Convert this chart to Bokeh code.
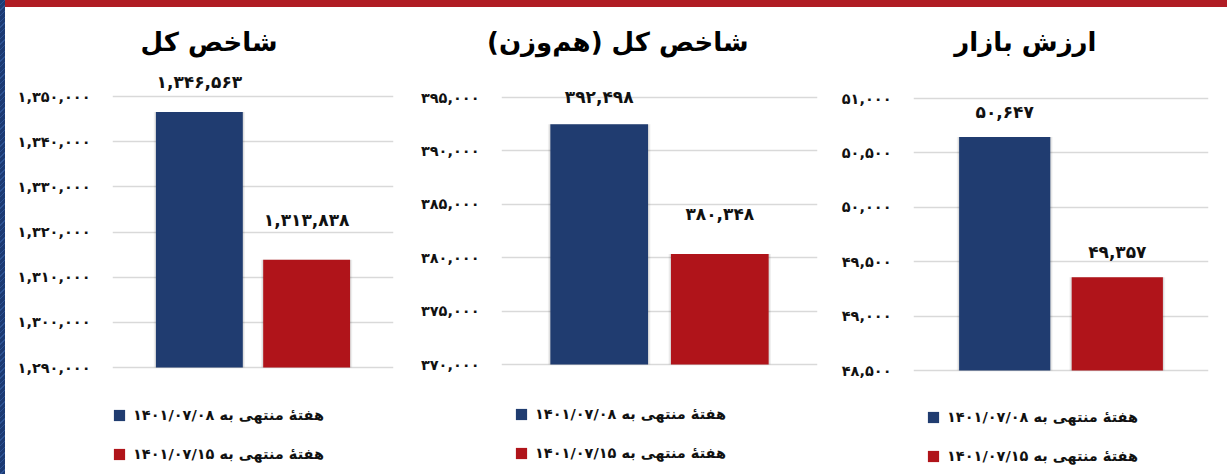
from bokeh.plotting import figure
from bokeh.layouts import row, column
from bokeh.models import (ColumnDataSource, FactorRange, Range1d, FixedTicker,
                          Legend, LegendItem, Div)
from bokeh.core.properties import value
from bokeh.embed import file_html
from bokeh.resources import INLINE

# ---------------- data ----------------
categories = ["هفتهٔ منتهی به ۱۴۰۱/۰۷/۰۸", "هفتهٔ منتهی به ۱۴۰۱/۰۷/۱۵"]
titles = ["شاخص کل", "\u200fشاخص کل (هم\u200cوزن)\u200f", "ارزش بازار"]
week_0708 = [1346563, 392498, 50647]
week_0715 = [1313838, 380348, 49357]
ticks_total = [1290000, 1300000, 1310000, 1320000, 1330000, 1340000, 1350000]
ticks_equal = [370000, 375000, 380000, 385000, 390000, 395000]
ticks_cap = [48500, 49000, 49500, 50000, 50500, 51000]
tick_sets = [ticks_total, ticks_equal, ticks_cap]

# ---------------- style ----------------
BLUE = "#203c70"
RED = "#b0141a"
FONT = "DejaVu Sans"
FA = str.maketrans("0123456789", "۰۱۲۳۴۵۶۷۸۹")


def fa(n):
    return f"{n:,}".translate(FA)


STRIP_W = 5
BAND_H = 7
H = 474 - BAND_H
FRAME_TOP = 63

# per-panel layout in px
panels = [
    dict(w=409 - STRIP_W, bl=107, br=16, top_px=89, bot_px=360, lift=[30, 40],
         lx=0, ly=12, toff=116),
    dict(w=409, bl=92, br=1, top_px=90, bot_px=357, lift=[27, 40],
         lx=13, ly=13, toff=69),
    dict(w=409, bl=95, br=19, top_px=91, bot_px=363, lift=[25, 25],
         lx=13, ly=10, toff=112),
]

figs = []
for i, cfg in enumerate(panels):
    ticks = tick_sets[i]
    vals = [week_0708[i], week_0715[i]]
    upp = (ticks[-1] - ticks[0]) / (cfg["bot_px"] - cfg["top_px"])  # units per px
    y0 = ticks[0] - (H - cfg["bot_px"]) * upp
    y1 = ticks[-1] + (cfg["top_px"] - FRAME_TOP) * upp
    src = ColumnDataSource(dict(
        cat=categories,
        top=vals,
        bottom=[ticks[0]] * 2,
        color=[BLUE, RED],
        label=[fa(v) for v in vals],
        lift=[-d for d in cfg["lift"]],
    ))
    p = figure(x_range=FactorRange(factors=categories, range_padding=0.31,
                                   range_padding_units="absolute"),
               y_range=Range1d(y0, y1), title=titles[i],
               width=cfg["w"], height=H, output_backend="svg", toolbar_location=None,
               min_border_left=cfg["bl"], min_border_right=cfg["br"],
               min_border_top=FRAME_TOP, min_border_bottom=0)
    p.outline_line_color = None
    p.background_fill_color = "white"
    p.border_fill_color = "white"
    p.xaxis.visible = False
    p.xgrid.visible = False
    p.ygrid.grid_line_color = "#d9d9d9"
    p.ygrid.grid_line_width = 1.5
    ax = p.yaxis[0]
    ax.ticker = FixedTicker(ticks=ticks)
    ax.major_label_overrides = {t: fa(t) for t in ticks}
    ax.axis_line_color = None
    ax.major_tick_line_color = None
    ax.minor_tick_line_color = None
    ax.major_tick_out = 0
    ax.major_tick_in = 0
    ax.major_label_standoff = 22
    ax.major_label_text_font = FONT
    ax.major_label_text_font_style = "bold"
    ax.major_label_text_font_size = "14.5px"
    ax.major_label_text_color = "#111111"

    t = p.title
    t.align = "right"
    t.offset = cfg["toff"]
    t.text_font = FONT
    t.text_font_style = "bold"
    t.text_font_size = "26px"
    t.text_color = "#000000"
    t.standoff = 28

    # soft shadow
    p.vbar(x="cat", top="top", bottom="bottom", width=0.85, source=src,
           fill_color="#000000", fill_alpha=0.06, line_color=None)
    p.vbar(x="cat", top="top", bottom="bottom", width=0.83, source=src,
           fill_color="#000000", fill_alpha=0.08, line_color=None)
    bars = p.vbar(x="cat", top="top", bottom="bottom", width=0.81, source=src,
                  fill_color="color", line_color=None)
    p.text(x="cat", y="top", text="label", source=src, y_offset="lift",
           text_align="center", text_baseline="middle",
           text_font=value(FONT), text_font_style="bold",
           text_font_size="17px", text_color="#111111")

    legend = Legend(items=[LegendItem(label=categories[0], renderers=[bars], index=0),
                           LegendItem(label=categories[1], renderers=[bars], index=1)],
                    location=(cfg["lx"], cfg["ly"]),
                    glyph_width=14, glyph_height=14, label_height=14,
                    label_standoff=7, spacing=23, padding=0, margin=0,
                    border_line_color=None, background_fill_alpha=0,
                    label_text_font=FONT, label_text_font_style="bold",
                    label_text_font_size="14.5px", label_text_color="#111111")
    p.add_layout(legend, "center")
    figs.append(p)

strip = Div(text="", width=STRIP_W, height=474, margin=0,
            styles={"background": "repeating-linear-gradient(135deg, #1c3a73 0px, #1c3a73 3px, #2d5394 3px, #2d5394 4px)"})
band = Div(text="", width=1227 - STRIP_W, height=BAND_H, margin=0,
           styles={"background-color": "#b01c24"})

layout = row(strip, column(band, row(*figs)))

open("out.html", "w").write(file_html(layout, INLINE))
